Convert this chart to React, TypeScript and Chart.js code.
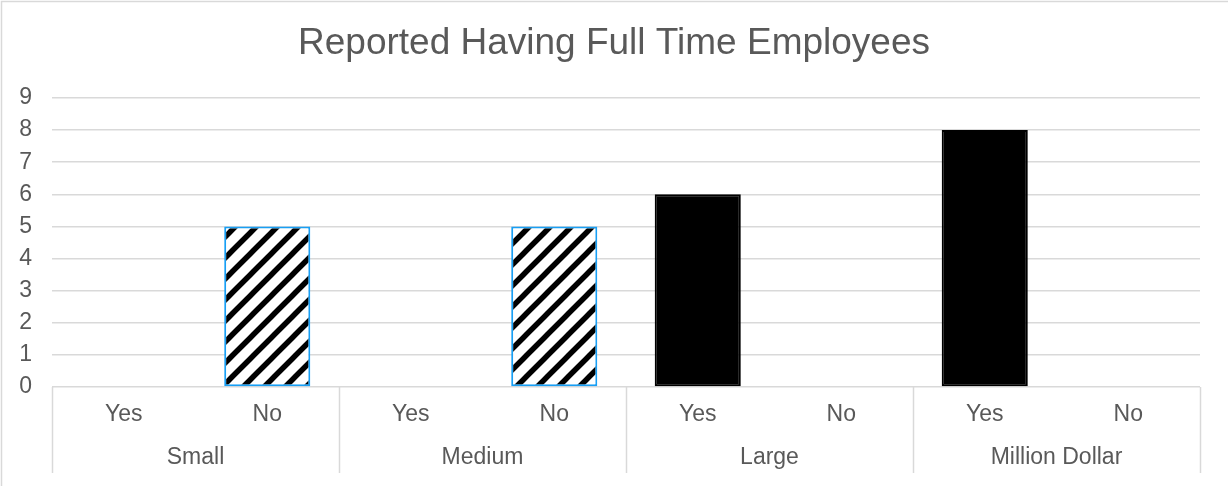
import React, { useEffect, useRef } from "react";
import { Chart, registerables } from "chart.js";

Chart.register(...registerables);

const chartTitle = "Reported Having Full Time Employees";
const groups = ["Small", "Medium", "Large", "Million Dollar"];
const answers = ["Yes", "No"];
const yesValues = [0, 0, 6, 8];
const noValues = [5, 5, 0, 0];
const yMax = 9;

const FONT = "'Liberation Sans', Arial, sans-serif";
const TEXT = "#595959";
const GRID = "#d9d9d9";

function makeHatch(): CanvasPattern | string {
  const s = 21;
  const c = document.createElement("canvas");
  c.width = s;
  c.height = s;
  const ctx = c.getContext("2d");
  if (!ctx) return "#000";
  ctx.fillStyle = "#fff";
  ctx.fillRect(0, 0, s, s);
  ctx.strokeStyle = "#000";
  ctx.lineWidth = 5.5;
  ctx.lineCap = "square";
  ctx.beginPath();
  ctx.moveTo(-2, s + 2);
  ctx.lineTo(s + 2, -2);
  ctx.moveTo(-2, 2);
  ctx.lineTo(2, -2);
  ctx.moveTo(s - 2, s + 2);
  ctx.lineTo(s + 2, s - 2);
  ctx.stroke();
  const p = ctx.createPattern(c, "repeat");
  return p || "#000";
}

export default function App() {
  const ref = useRef<HTMLCanvasElement>(null);

  useEffect(() => {
    if (!ref.current) return;
    const hatch = makeHatch();
    const labels: string[] = [];
    const values: number[] = [];
    const bg: any[] = [];
    const bc: string[] = [];
    groups.forEach((g, i) => {
      answers.forEach((a, j) => {
        labels.push(a + "|" + g);
        values.push(j === 0 ? yesValues[i] : noValues[i]);
        bg.push(j === 0 ? "#000000" : hatch);
        bc.push(j === 0 ? "#000000" : "#179ff5");
      });
    });

    const decor = {
      id: "decor",
      beforeDraw(chart: any) {
        const { ctx, width, height } = chart;
        ctx.save();
        ctx.fillStyle = "#fff";
        ctx.fillRect(0, 0, width, height);
        ctx.strokeStyle = GRID;
        ctx.lineWidth = 1.5;
        ctx.strokeRect(1.5, 1.5, width + 10, height + 10);
        ctx.restore();
      },
      afterDraw(chart: any) {
        const { ctx, chartArea } = chart;
        const x = chart.scales.x;
        const n = labels.length;
        const slot = (chartArea.right - chartArea.left) / n;
        ctx.save();
        ctx.fillStyle = TEXT;
        ctx.textAlign = "center";
        ctx.textBaseline = "middle";
        ctx.font = `23px ${FONT}`;
        labels.forEach((l, i) => {
          const px = x.getPixelForValue(i);
          ctx.fillText(l.split("|")[0], px, 415);
        });
        groups.forEach((g, gi) => {
          const px = (x.getPixelForValue(gi * 2) + x.getPixelForValue(gi * 2 + 1)) / 2;
          ctx.fillText(g, px, 458);
        });
        ctx.strokeStyle = GRID;
        ctx.lineWidth = 1.5;
        for (let gi = 0; gi <= groups.length; gi++) {
          const bx = Math.round(chartArea.left + gi * 2 * slot) + 0.5;
          ctx.beginPath();
          ctx.moveTo(bx, chartArea.bottom);
          ctx.lineTo(bx, 473);
          ctx.stroke();
        }
        ctx.restore();
      },
    };

    const chart = new Chart(ref.current, {
      type: "bar",
      data: {
        labels,
        datasets: [
          {
            data: values,
            backgroundColor: bg,
            borderColor: bc,
            borderWidth: 2,
            borderSkipped: false,
            categoryPercentage: 1,
            barPercentage: 0.6,
          },
        ],
      },
      options: {
        responsive: false,
        animation: false,
        layout: { padding: { left: 0, right: 0, top: 0, bottom: 99 } },
        plugins: {
          legend: { display: false },
          tooltip: { enabled: false },
          title: {
            display: true,
            text: chartTitle,
            color: TEXT,
            font: { family: FONT, size: 37, weight: "normal" },
            padding: { top: 22, bottom: 31.6 },
          },
        },
        scales: {
          x: { display: false },
          y: {
            min: 0,
            max: yMax,
            afterFit(s: any) {
              s.width = 52;
            },
            ticks: {
              stepSize: 1,
              color: TEXT,
              padding: 20,
              font: { family: FONT, size: 23 },
            },
            grid: { color: GRID, lineWidth: 1.5, drawTicks: false },
            border: { display: false },
          },
          yRight: {
            position: "right",
            min: 0,
            max: yMax,
            afterFit(s: any) {
              s.width = 28;
            },
            ticks: { display: false },
            grid: { display: false, drawTicks: false },
            border: { display: false },
          },
        },
      },
      plugins: [decor],
    });
    return () => chart.destroy();
  }, []);

  return (
    <canvas
      ref={ref}
      width={1228}
      height={486}
      style={{ position: "fixed", left: 0, top: 0, width: 1228, height: 486 }}
    />
  );
}
